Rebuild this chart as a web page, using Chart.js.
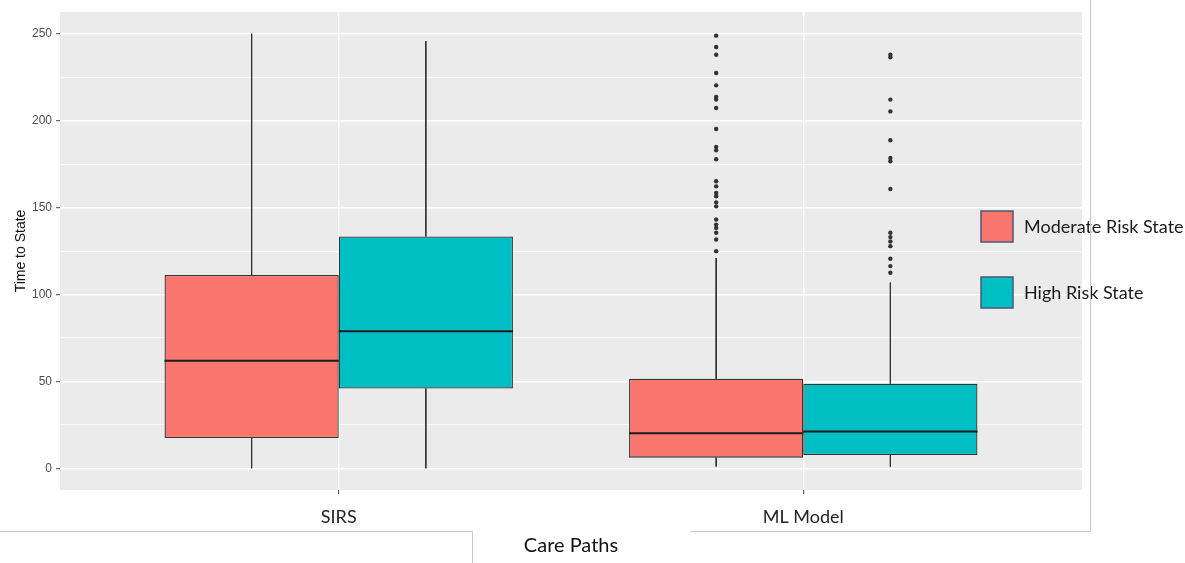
<!DOCTYPE html>
<html>
<head>
<meta charset="utf-8">
<script src="https://cdn.jsdelivr.net/npm/chart.js@4"></script>
<style>
  html, body { margin: 0; padding: 0; background: #ffffff; }
</style>
</head>
<body>
<canvas id="boxChart" width="1185" height="563"></canvas>
<script>
// categories on the x axis and the two fill groups
const categories = ['SIRS', 'ML Model'];
const seriesNames = ['Moderate Risk State', 'High Risk State'];
const seriesColors = ['#F8766D', '#00BFC4'];

// box stats, [series][category]
const whiskerLow = [[0, 1], [0, 1]];
const q1 = [[17.4, 6.1], [45.9, 7.6]];
const median = [[61.8, 20.1], [78.9, 21.1]];
const q3 = [[111.2, 51.5], [133.4, 48.6]];
const whiskerHigh = [[250, 121], [245.7, 106.8]];

// outliers, [series][category]
const outliers = [
  [[], [248.9, 242.4, 237.9, 227.4, 220.3, 213.6, 212.1, 207.3, 195.2, 184.8, 182.9, 177.8,
        165.1, 162.2, 158.4, 156.5, 153, 150.7, 143.1, 140.2, 138.3, 135.5, 131.6, 124.9]],
  [[], [238, 236.5, 212.1, 205.3, 188.7, 178.5, 176.6, 160.7, 135.5, 133, 130.5, 127.8,
        120.5, 116.3, 112.5]]
];

// y axis ticks (labels only on multiples of 50)
const yTicks = [0, 25, 50, 75, 100, 125, 150, 175, 200, 225, 250];

const dodge = 0.75;          // ggplot dodge width
const boxW = dodge / 2;      // each box is half the dodge width

// centre of a box for series s in category c
function boxX(s, c) {
  return (c + 1) + (s === 0 ? -1 : 1) * boxW / 2;
}

const datasets = [];

// boxes = floating bars from q1 to q3
seriesNames.forEach(function (name, s) {
  datasets.push({
    type: 'bar',
    label: name,
    data: categories.map(function (cat, c) { return { x: c + 1, y: [q1[s][c], q3[s][c]] }; }),
    backgroundColor: seriesColors[s],
    borderColor: '#333333',
    borderWidth: 1.3,
    borderSkipped: false,
    categoryPercentage: dodge,
    barPercentage: 1,
    order: 3
  });
});

// whiskers
const whiskerPts = [];
seriesNames.forEach(function (name, s) {
  categories.forEach(function (cat, c) {
    const x = boxX(s, c);
    whiskerPts.push({ x: x, y: whiskerHigh[s][c] }, { x: x, y: q3[s][c] }, { x: x, y: null });
    whiskerPts.push({ x: x, y: q1[s][c] }, { x: x, y: whiskerLow[s][c] }, { x: x, y: null });
  });
});
datasets.push({
  type: 'line', label: 'whiskers', data: whiskerPts,
  borderColor: '#333333', borderWidth: 1, pointRadius: 0, spanGaps: false, fill: false, order: 2
});

// medians
const medianPts = [];
seriesNames.forEach(function (name, s) {
  categories.forEach(function (cat, c) {
    const x = boxX(s, c);
    medianPts.push({ x: x - boxW / 2, y: median[s][c] }, { x: x + boxW / 2, y: median[s][c] }, { x: x, y: null });
  });
});
datasets.push({
  type: 'line', label: 'medians', data: medianPts,
  borderColor: '#1c1c1c', borderWidth: 2, pointRadius: 0, spanGaps: false, fill: false, order: 1
});

// outlier dots
const outlierPts = [];
seriesNames.forEach(function (name, s) {
  categories.forEach(function (cat, c) {
    outliers[s][c].forEach(function (v) { outlierPts.push({ x: boxX(s, c), y: v }); });
  });
});
datasets.push({
  type: 'scatter', label: 'outliers', data: outlierPts,
  pointRadius: 2.2, pointBackgroundColor: '#333333', pointBorderWidth: 0, order: 0
});

// grey ggplot panel
const panelBg = {
  id: 'panelBg',
  beforeDraw: function (chart) {
    const a = chart.chartArea, ctx = chart.ctx;
    ctx.save();
    ctx.fillStyle = '#EBEBEB';
    ctx.fillRect(a.left, a.top, a.right - a.left, a.bottom - a.top);
    ctx.restore();
  }
};

// legend pasted at the right + the frame lines of the screenshot
const sideLegend = {
  id: 'sideLegend',
  afterDraw: function (chart) {
    const ctx = chart.ctx;
    ctx.save();
    seriesNames.forEach(function (name, i) {
      const y = 211 + i * 66;
      ctx.fillStyle = seriesColors[i];
      ctx.fillRect(981, y, 32, 31);
      ctx.strokeStyle = '#4a5878';
      ctx.lineWidth = 1.5;
      ctx.strokeRect(981, y, 32, 31);
      ctx.fillStyle = '#1a1a1a';
      ctx.font = '18px Lato';
      ctx.textBaseline = 'middle';
      ctx.fillText(name, 1024, y + 16);
    });
    ctx.strokeStyle = '#c8c8c8';
    ctx.lineWidth = 1;
    ctx.beginPath();
    ctx.moveTo(0, 531.5); ctx.lineTo(472.5, 531.5); ctx.lineTo(472.5, 563);
    ctx.moveTo(690, 531.5); ctx.lineTo(1090.5, 531.5); ctx.lineTo(1090.5, 0);
    ctx.stroke();
    ctx.restore();
  }
};

new Chart(document.getElementById('boxChart'), {
  type: 'bar',
  data: { datasets: datasets },
  options: {
    responsive: false,
    animation: false,
    events: [],
    layout: { padding: { top: 12, right: 103, bottom: 0, left: 0 } },
    plugins: {
      legend: { display: false },
      tooltip: { enabled: false }
    },
    scales: {
      x: {
        type: 'linear',
        min: 0.4,
        max: 2.6,
        offset: false,
        afterBuildTicks: function (scale) {
          scale.ticks = categories.map(function (c, i) { return { value: i + 1 }; });
        },
        afterFit: function (scale) { scale.height = 73; },
        grid: { offset: false, color: '#ffffff', lineWidth: 1.4, tickColor: '#444444', tickLength: 4, tickWidth: 1 },
        border: { display: false },
        ticks: {
          callback: function (v) { return categories[v - 1]; },
          font: { family: 'Lato', size: 18 },
          color: '#222222',
          padding: 12,
          maxRotation: 0,
          autoSkip: false
        },
        title: {
          display: true,
          text: 'Care Paths',
          font: { family: 'Lato', size: 20 },
          color: '#111111',
          padding: { top: 0, bottom: 5 }
        }
      },
      y: {
        min: -12.5,
        max: 262.5,
        afterBuildTicks: function (scale) {
          scale.ticks = yTicks.map(function (v) { return { value: v }; });
        },
        afterFit: function (scale) { scale.width = 60; },
        grid: {
          color: '#ffffff',
          lineWidth: function (c) { return c.tick && c.tick.value % 50 === 0 ? 1.4 : 0.7; },
          tickColor: function (c) { return c.tick && c.tick.value % 50 === 0 ? '#444444' : 'rgba(0,0,0,0)'; },
          tickLength: 4,
          tickWidth: 1
        },
        border: { display: false },
        ticks: {
          callback: function (v) { return v % 50 === 0 ? v : ''; },
          font: { family: 'Liberation Sans', size: 12 },
          color: '#4D4D4D',
          padding: 4
        },
        title: {
          display: true,
          text: 'Time to State',
          font: { family: 'Liberation Sans', size: 14 },
          color: '#111111',
          padding: { top: 13, bottom: 0 }
        }
      }
    }
  },
  plugins: [panelBg, sideLegend]
});
</script>
</body>
</html>
